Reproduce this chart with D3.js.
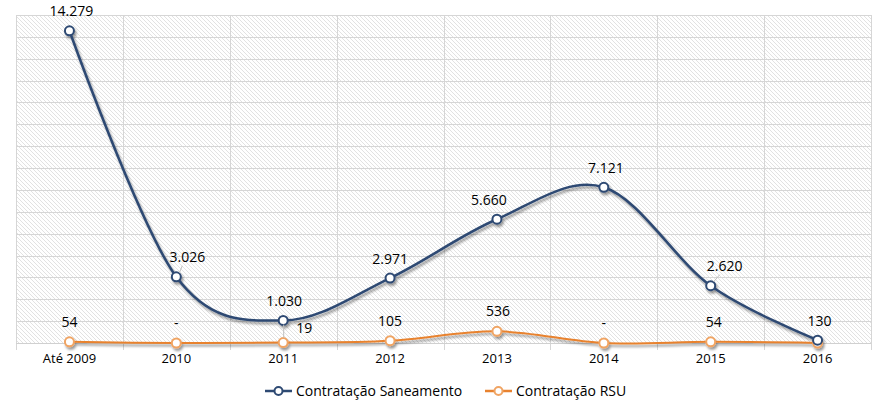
<!DOCTYPE html>
<html>
<head>
<meta charset="utf-8">
<script src="https://cdn.jsdelivr.net/npm/d3@7"></script>
<style>
  html, body { margin: 0; padding: 0; background: #fff; }
  svg { display: block; }
</style>
</head>
<body>
<script>
const categories = ["Até 2009", "2010", "2011", "2012", "2013", "2014", "2015", "2016"];
const saneamentoValues = [14279, 3026, 1030, 2971, 5660, 7121, 2620, 130];
const saneamentoLabels = ["14.279", "3.026", "1.030", "2.971", "5.660", "7.121", "2.620", "130"];
const rsuValues = [54, 0, 19, 105, 536, 0, 54, 0];
const rsuLabels = ["54", "-", "19", "105", "536", "-", "54", ""];
const seriesNames = ["Contratação Saneamento", "Contratação RSU"];
const yMax = 15000;
const yStep = 1000;

// label nudges (layout only)
const sanLabelDx = [2, 11, 1, 0, -8, 2, 14, 2];
const rsuLabelDx = [0, 0, 21, 0, 1, 0, 3, 0];
const rsuLabelDy = [0, 0, 5, 0, 0, 0, 0, 0];

const W = 885, H = 414;
const margin = {left: 16, right: 14, top: 15, bottom: 71};
const svg = d3.select("body").append("svg").attr("width", W).attr("height", H);
const defs = svg.append("defs");

const pat = defs.append("pattern").attr("id", "hatch")
  .attr("patternUnits", "userSpaceOnUse").attr("width", 4).attr("height", 4);
pat.append("rect").attr("width", 4).attr("height", 4).attr("fill", "#ffffff");
pat.append("path").attr("d", "M-1,-1 L5,5 M3,-1 L5,1 M-1,3 L1,5")
  .attr("stroke", "#e2e2e2").attr("stroke-width", 1);

const f = defs.append("filter").attr("id", "shadow")
  .attr("x", "-10%").attr("y", "-10%").attr("width", "120%").attr("height", "130%");
f.append("feDropShadow").attr("dx", 1.5).attr("dy", 2.5).attr("stdDeviation", 1.3)
  .attr("flood-color", "#000").attr("flood-opacity", 0.4);

const x = d3.scaleBand().domain(categories).range([margin.left, W - margin.right]);
const y = d3.scaleLinear().domain([0, yMax]).range([H - margin.bottom, margin.top]);
const cx = c => x(c) + x.bandwidth() / 2;

// plot background
svg.append("rect")
  .attr("x", margin.left).attr("y", margin.top)
  .attr("width", W - margin.left - margin.right)
  .attr("height", H - margin.top - margin.bottom)
  .attr("fill", "url(#hatch)");

// horizontal gridlines
const yTicks = d3.range(yStep, yMax + 1, yStep);
svg.append("g").selectAll("line").data(yTicks).join("line")
  .attr("x1", margin.left).attr("x2", W - margin.right)
  .attr("y1", d => Math.round(y(d)) + 0.5).attr("y2", d => Math.round(y(d)) + 0.5)
  .attr("stroke", "#d6d6d6").attr("stroke-width", 1);

// vertical gridlines at category boundaries
const bounds = categories.map(c => x(c)).concat([x(categories[categories.length - 1]) + x.bandwidth()]);
svg.append("g").selectAll("line").data(bounds).join("line")
  .attr("x1", d => Math.round(d) + 0.5).attr("x2", d => Math.round(d) + 0.5)
  .attr("y1", margin.top).attr("y2", H - margin.bottom + 7)
  .attr("stroke", "#d6d6d6").attr("stroke-width", 1);

// x axis
const xAxis = d3.axisBottom(x).tickSize(0).tickPadding(11);
const gx = svg.append("g").attr("transform", `translate(0,${H - margin.bottom})`).call(xAxis);
gx.select(".domain").attr("stroke", "#d0d0d0").attr("d", `M${margin.left},0.5H${W - margin.right}`);
gx.selectAll("text").attr("font-family", "'Open Sans', sans-serif").attr("font-size", 13)
  .attr("fill", "#000");

// lines
const line = d3.line().x((d, i) => cx(categories[i])).y(d => y(d)).curve(d3.curveCardinal.tension(0));

const navy = "#2e4a73";
const orange = "#e8822f";
const orangeMarker = "#f0a463";

const gLines = svg.append("g").attr("filter", "url(#shadow)");
gLines.append("path").datum(rsuValues).attr("d", line)
  .attr("fill", "none").attr("stroke", orange).attr("stroke-width", 2);
gLines.selectAll("circle.rsu").data(rsuValues).join("circle").attr("class", "rsu")
  .attr("cx", (d, i) => cx(categories[i])).attr("cy", d => y(d)).attr("r", 4.5)
  .attr("fill", "#fff").attr("stroke", orangeMarker).attr("stroke-width", 2);

gLines.append("path").datum(saneamentoValues).attr("d", line)
  .attr("fill", "none").attr("stroke", navy).attr("stroke-width", 2.5);
gLines.selectAll("circle.san").data(saneamentoValues).join("circle").attr("class", "san")
  .attr("cx", (d, i) => cx(categories[i])).attr("cy", d => y(d)).attr("r", 4.5)
  .attr("fill", "#fff").attr("stroke", navy).attr("stroke-width", 2);

// leader lines
const leaders = svg.append("g").attr("stroke", "#bfbfbf").attr("stroke-width", 1);
saneamentoValues.forEach((v, i) => {
  if (Math.abs(sanLabelDx[i]) > 8) {
    const px = cx(categories[i]), py = y(v);
    leaders.append("line").attr("x1", px + 3).attr("y1", py - 4)
      .attr("x2", px + sanLabelDx[i] - 5).attr("y2", py - 11);
  }
});
rsuValues.forEach((v, i) => {
  if (rsuLabelDx[i] > 8) {
    const px = cx(categories[i]) + 0.5, py = y(v);
    leaders.append("line").attr("x1", px).attr("y1", py - 5)
      .attr("x2", px).attr("y2", y(saneamentoValues[i]) + 4);
  }
});

// data labels
const labelFont = "'Open Sans', sans-serif";
svg.append("g").selectAll("text").data(saneamentoValues).join("text")
  .attr("x", (d, i) => cx(categories[i]) + sanLabelDx[i])
  .attr("y", d => y(d) - 14.5)
  .attr("text-anchor", "middle").attr("font-family", labelFont).attr("font-size", 14)
  .attr("fill", "#000").text((d, i) => saneamentoLabels[i]);

svg.append("g").selectAll("text").data(rsuValues).join("text")
  .attr("x", (d, i) => cx(categories[i]) + rsuLabelDx[i])
  .attr("y", (d, i) => y(d) - 15 + rsuLabelDy[i])
  .attr("text-anchor", "middle").attr("font-family", labelFont).attr("font-size", 14)
  .attr("fill", "#000").text((d, i) => rsuLabels[i]);

// legend
const legend = svg.append("g").attr("transform", "translate(265,391)");
const legendItems = [
  {name: seriesNames[0], color: navy, marker: navy, x: 0},
  {name: seriesNames[1], color: orange, marker: orangeMarker, x: 220}
];
legendItems.forEach(it => {
  const g = legend.append("g").attr("transform", `translate(${it.x},0)`);
  g.append("line").attr("x1", 0).attr("x2", 27).attr("y1", 0).attr("y2", 0)
    .attr("stroke", it.color).attr("stroke-width", 2.5);
  g.append("circle").attr("cx", 13.5).attr("cy", 0).attr("r", 4)
    .attr("fill", "#fff").attr("stroke", it.marker).attr("stroke-width", 2);
  g.append("text").attr("x", 31).attr("y", 5).attr("font-family", labelFont)
    .attr("font-size", 14).attr("fill", "#000").text(it.name);
});
</script>
</body>
</html>
